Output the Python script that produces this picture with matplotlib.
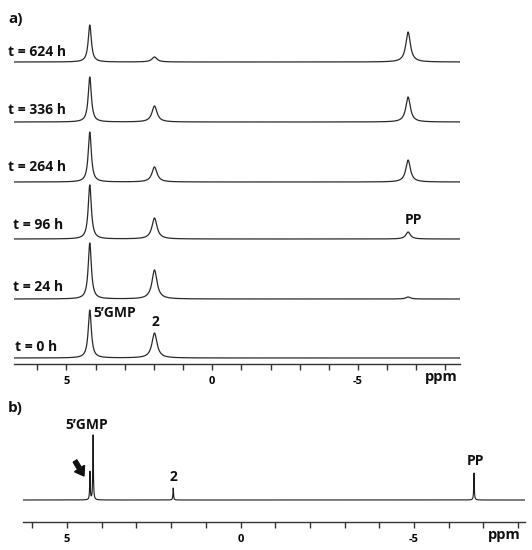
import numpy as np
import matplotlib
matplotlib.use("Agg")
import matplotlib.pyplot as plt
from matplotlib.ticker import FixedLocator, FuncFormatter

plt.rcParams['font.family'] = ['Open Sans', 'DejaVu Sans']

# ---------------- data ----------------
time_labels = ["t = 0 h", "t = 24 h", "t = 96 h", "t = 264 h", "t = 336 h", "t = 624 h"]
# peak positions (ppm)
gmp_ppm = 4.2
p2_ppm = 1.98
pp_ppm = -6.72
# peak heights per spectrum (arbitrary units)
gmp_heights = [48, 56, 54, 50, 45, 37]
p2_heights = [25, 29, 21, 15, 16, 5]
pp_heights = [0, 2, 7, 22, 25, 30]
# line widths (ppm)
gmp_width = 0.13
p2_width = 0.21
pp_width = 0.19

# panel b (high resolution spectrum)
b_ppm = [4.34, 4.25, 1.94, -6.73]
b_heights = [28, 65, 12, 27]
b_width = 0.02

tick_labels_shown = {5: "5", 0: "0", -5: "-5"}

# ---------------- figure ----------------
W, H = 532, 550
fig = plt.figure(figsize=(W / 100, H / 100), dpi=100)


def px_axes(x0, y0, x1, y1):
    return fig.add_axes([x0 / W, 1 - y1 / H, (x1 - x0) / W, (y1 - y0) / H])


def lorentz(x, x0, h, w):
    return h * (w / 2) ** 2 / ((x - x0) ** 2 + (w / 2) ** 2)


def style_axis(ax):
    for s in ["top", "left", "right"]:
        ax.spines[s].set_visible(False)
    ax.spines["bottom"].set_color("#333333")
    ax.spines["bottom"].set_linewidth(1.0)
    ax.set_yticks([])
    ax.xaxis.set_major_locator(FixedLocator(list(range(-8, 7))))
    ax.xaxis.set_major_formatter(FuncFormatter(lambda v, p: tick_labels_shown.get(int(round(v)), "")))
    ax.tick_params(axis="x", direction="out", length=4, width=1.0, color="#333333",
                   labelsize=8, pad=5)
    for lab in ax.get_xticklabels():
        lab.set_fontweight("bold")


# ---- panel a ----
axa = px_axes(14, 15, 460, 364)
xa_lim = (6.8, -8.5)
x = np.linspace(xa_lim[0], xa_lim[1], 4000)
offsets = [6, 65, 125, 182, 242, 302]
for i in range(len(time_labels)):
    y = (lorentz(x, gmp_ppm, gmp_heights[i], gmp_width)
         + lorentz(x, p2_ppm, p2_heights[i], p2_width)
         + lorentz(x, pp_ppm, pp_heights[i], pp_width)
         + offsets[i])
    axa.plot(x, y, color="#2a2a2a", lw=0.9)
axa.set_xlim(*xa_lim)
axa.set_ylim(0, 349)
style_axis(axa)

# ---- panel b ----
axb = px_axes(23, 425, 525, 522)
xb_lim = (6.27, -8.2)
xb = np.linspace(xb_lim[0], xb_lim[1], 8000)
yb = np.full_like(xb, 22.0)
for p, h in zip(b_ppm, b_heights):
    yb = yb + lorentz(xb, p, h, b_width)
axb.plot(xb, yb, color="#1a1a1a", lw=0.8)
axb.set_xlim(*xb_lim)
axb.set_ylim(0, 97)
style_axis(axb)

# ---- texts ----
def ftext(xp, yp, s, size=10, ha="left", va="center"):
    fig.text(xp / W, 1 - yp / H, s, fontsize=size, fontweight="bold", ha=ha, va=va,
             color="#111111")

ftext(8, 19, "a)", size=11)
ftext(8, 408, "b)", size=11)
label_pos = [(15, 347), (13, 287), (13, 225), (8, 167), (8, 110), (8, 52)]
for (lx, ly), s in zip(label_pos, time_labels):
    ftext(lx, ly, s)

ftext(93, 313, "5\u2019GMP")
ftext(155, 322, "2", ha="center")
ftext(413, 220, "PP", ha="center")
ftext(441, 377, "ppm", size=10.5, ha="center")

ftext(87, 425, "5\u2019GMP", ha="center")
ftext(173, 477, "2", ha="center")
ftext(475, 461, "PP", ha="center")
ftext(504, 535, "ppm", size=10.5, ha="center")

fig.patches.append(matplotlib.patches.FancyArrow(
    75 / W, 1 - 461 / H, 9 / W, -15 / H, width=0.008, head_width=0.022,
    head_length=0.016, length_includes_head=True, transform=fig.transFigure,
    color="#111111"))

fig.savefig("out.png", dpi=100)
